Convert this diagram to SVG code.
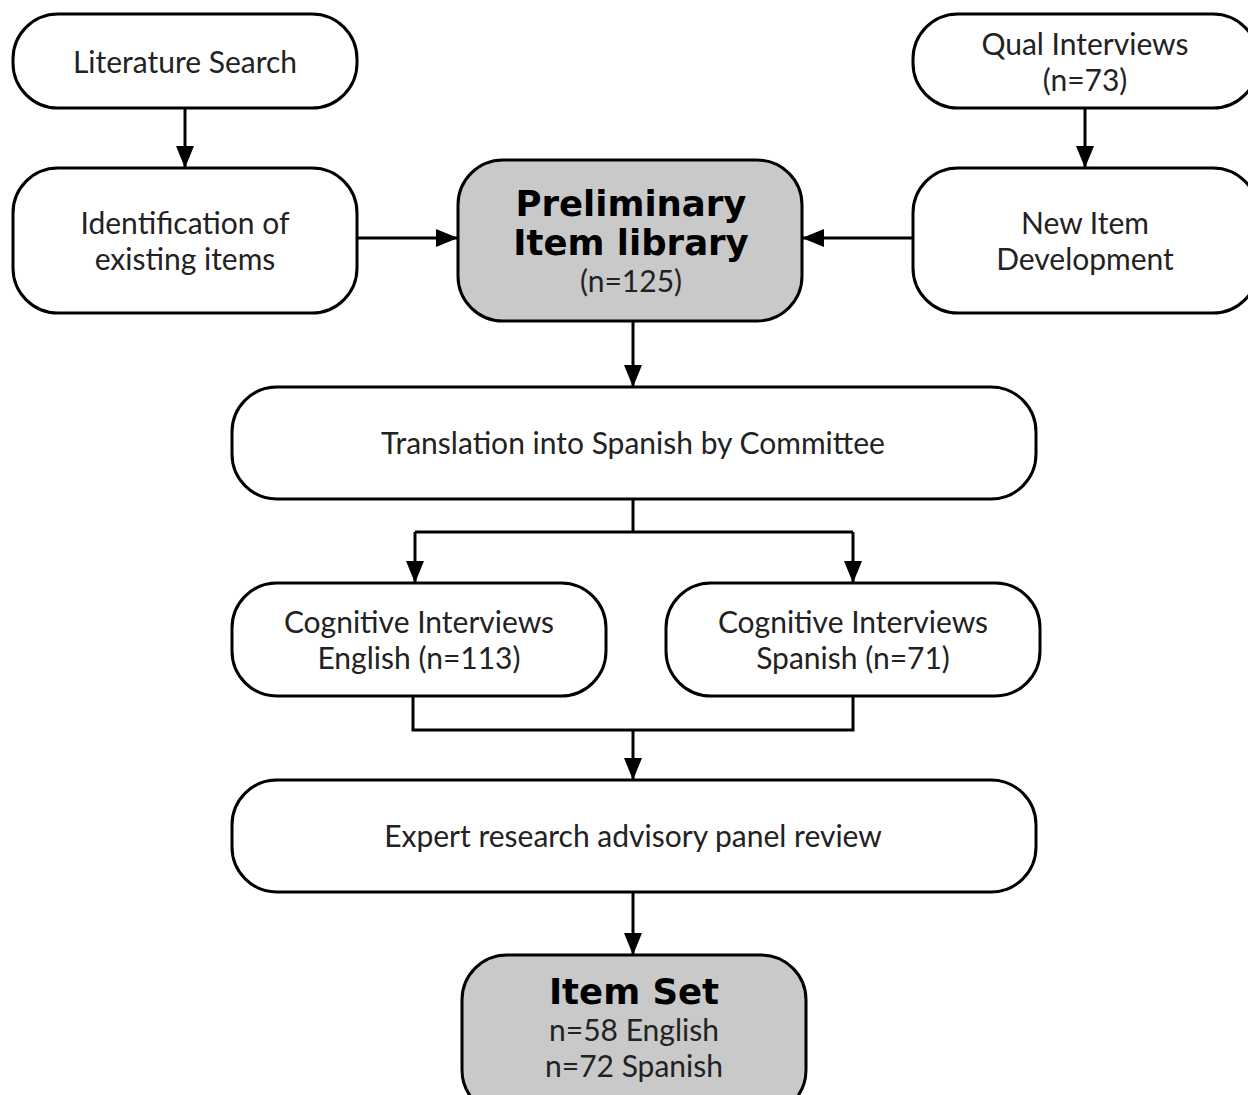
<svg xmlns="http://www.w3.org/2000/svg" width="1248" height="1095" viewBox="0 0 1248 1095">
<defs>
<marker id="ah" markerUnits="userSpaceOnUse" markerWidth="22" markerHeight="18" viewBox="0 0 22 18" refX="22" refY="9" orient="auto">
<path d="M0,0 L22,9 L0,18 Z" fill="#000"/>
</marker>
</defs>
<style>
.box{fill:#fff;stroke:#000;stroke-width:3}
.gray{fill:#c9c9c9;stroke:#000;stroke-width:3}
.t{font-family:Lato,"Open Sans",sans-serif;font-size:30px;fill:#222;text-anchor:middle}
.b{font-family:"DejaVu Sans",Verdana,sans-serif;font-weight:bold;font-size:35.5px;fill:#000;text-anchor:middle}
.c{fill:none;stroke:#000;stroke-width:3}
</style>
<rect width="1248" height="1095" fill="#fff"/>
<g id="connectors">
<path class="c" d="M185,108 V168" marker-end="url(#ah)"/>
<path class="c" d="M1085,108 V168" marker-end="url(#ah)"/>
<path class="c" d="M357,238 H458" marker-end="url(#ah)"/>
<path class="c" d="M913,238 H802" marker-end="url(#ah)"/>
<path class="c" d="M633,321 V387" marker-end="url(#ah)"/>
<path class="c" d="M633,499 V532"/>
<path class="c" d="M415,532 H853"/>
<path class="c" d="M415,532 V583" marker-end="url(#ah)"/>
<path class="c" d="M853,532 V583" marker-end="url(#ah)"/>
<path class="c" d="M413,696 V730 H853 V696"/>
<path class="c" d="M633,730 V780" marker-end="url(#ah)"/>
<path class="c" d="M633,892 V955" marker-end="url(#ah)"/>
</g>
<g id="literature-search">
<rect class="box" x="13" y="14" width="344" height="94" rx="45"/>
<text class="t" x="185" y="73">Literature Search</text>
</g>
<g id="identification">
<rect class="box" x="13" y="168" width="344" height="145" rx="45"/>
<text class="t" x="185" y="234">Identification of</text>
<text class="t" x="185" y="270">existing items</text>
</g>
<g id="preliminary">
<rect class="gray" x="458" y="160" width="344" height="161" rx="45"/>
<text class="b" x="631" y="216">Preliminary</text>
<text class="b" x="631" y="255">Item library</text>
<text class="t" x="631" y="292">(n=125)</text>
</g>
<g id="qual-interviews">
<rect class="box" x="913" y="14" width="345" height="94" rx="45"/>
<text class="t" x="1085" y="55">Qual Interviews</text>
<text class="t" x="1085" y="91">(n=73)</text>
</g>
<g id="new-item">
<rect class="box" x="913" y="168" width="345" height="145" rx="45"/>
<text class="t" x="1085" y="234">New Item</text>
<text class="t" x="1085" y="270">Development</text>
</g>
<g id="translation">
<rect class="box" x="232" y="387" width="804" height="112" rx="45"/>
<text class="t" x="633" y="454">Translation into Spanish by Committee</text>
</g>
<g id="cog-english">
<rect class="box" x="232" y="583" width="374" height="113" rx="45"/>
<text class="t" x="419" y="633">Cognitive Interviews</text>
<text class="t" x="419" y="669">English (n=113)</text>
</g>
<g id="cog-spanish">
<rect class="box" x="666" y="583" width="374" height="113" rx="45"/>
<text class="t" x="853" y="633">Cognitive Interviews</text>
<text class="t" x="853" y="669">Spanish (n=71)</text>
</g>
<g id="expert">
<rect class="box" x="232" y="780" width="804" height="112" rx="45"/>
<text class="t" x="633" y="847">Expert research advisory panel review</text>
</g>
<g id="item-set">
<rect class="gray" x="462" y="955" width="344" height="160" rx="45"/>
<text class="b" x="634" y="1004">Item Set</text>
<text class="t" x="634" y="1041">n=58 English</text>
<text class="t" x="634" y="1077">n=72 Spanish</text>
</g>
</svg>
